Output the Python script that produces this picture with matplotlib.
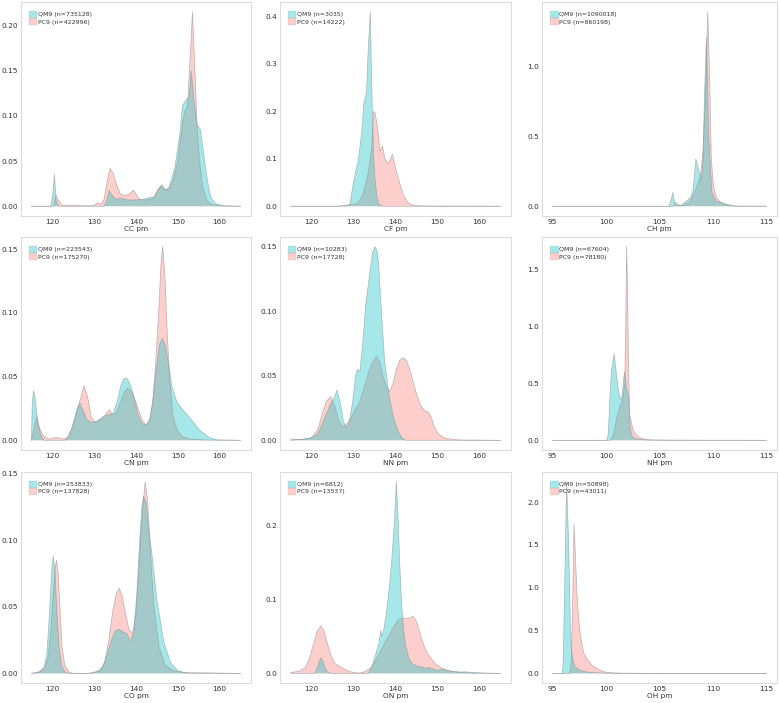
import matplotlib
matplotlib.use('Agg')
import matplotlib.pyplot as plt
from matplotlib.patches import Patch
from matplotlib.ticker import FormatStrFormatter

# ---------------- data ----------------
bond_types = ['CC', 'CF', 'CH', 'CN', 'NN', 'NH', 'CO', 'ON', 'OH']
qm9_counts = [735128, 3035, 1090018, 223543, 10283, 67604, 253833, 6812, 50898]
pc9_counts = [422996, 14222, 860198, 175270, 17728, 78180, 137828, 13537, 43011]

heavy_xticks = [120, 130, 140, 150, 160]
hydro_xticks = [95, 100, 105, 110, 115]

cc_qm9_x = [115, 119.6, 120.1, 120.5, 120.9, 121.5, 132.3, 133.0, 133.6, 134.3, 135.2, 136.5, 138, 140, 142, 143.5, 144.5, 145.5, 146.2, 147, 147.8, 148.5, 149.3, 150.5, 151.1, 152.0, 152.7, 153.2, 153.8, 154.6, 155.4, 156.0, 156.7, 157.4, 158.0, 159.0, 161, 165]
cc_qm9_y = [0, 0, 0.012, 0.035, 0.006, 0, 0, 0.006, 0.017, 0.012, 0.008, 0.009, 0.007, 0.007, 0.008, 0.010, 0.010, 0.020, 0.024, 0.018, 0.020, 0.030, 0.043, 0.080, 0.111, 0.118, 0.120, 0.150, 0.120, 0.090, 0.085, 0.065, 0.040, 0.020, 0.009, 0.003, 0.0005, 0]
cc_pc9_x = [115, 120.3, 120.9, 121.5, 122.5, 129.8, 130.8, 131.6, 132.4, 133.2, 133.8, 134.5, 135.3, 136.2, 137.2, 138.3, 139.4, 140.2, 141, 142.5, 144, 145.2, 146, 147, 148, 149, 150, 150.8, 151.6, 152.3, 152.9, 153.5, 154.1, 154.6, 155.2, 156, 157, 158, 160, 165]
cc_pc9_y = [0, 0, 0.012, 0.006, 0.001, 0.0005, 0.004, 0.002, 0.008, 0.030, 0.042, 0.037, 0.025, 0.014, 0.012, 0.013, 0.018, 0.012, 0.007, 0.007, 0.008, 0.018, 0.022, 0.018, 0.020, 0.030, 0.050, 0.080, 0.105, 0.110, 0.160, 0.215, 0.150, 0.090, 0.050, 0.020, 0.006, 0.002, 0.0005, 0]

cf_qm9_x = [115, 128, 129.1, 129.8, 130.6, 131.1, 131.9, 132.5, 133.1, 133.5, 134.0, 134.2, 134.5, 134.8, 135.1, 135.5, 136.0, 137, 165]
cf_qm9_y = [0, 0, 0.003, 0.040, 0.077, 0.095, 0.150, 0.220, 0.240, 0.330, 0.410, 0.320, 0.200, 0.100, 0.060, 0.025, 0.005, 0, 0]
cf_pc9_x = [115, 126, 128, 130, 131, 132, 132.7, 133.5, 134.3, 134.8, 135.2, 135.8, 136.3, 136.9, 137.5, 138.2, 138.8, 139.3, 140.2, 141.0, 141.8, 143.0, 144.0, 145.5, 148, 165]
cf_pc9_y = [0, 0, 0.002, 0.004, 0.006, 0.020, 0.040, 0.070, 0.120, 0.200, 0.195, 0.160, 0.116, 0.127, 0.100, 0.090, 0.100, 0.110, 0.074, 0.049, 0.025, 0.007, 0.003, 0.001, 0.0005, 0]

ch_qm9_x = [95, 105.9, 106.1, 106.25, 106.45, 107.0, 107.5, 107.9, 108.15, 108.4, 108.65, 108.87, 109.05, 109.2, 109.32, 109.4, 109.6, 109.9, 110.3, 111.0, 111.8, 112.5, 115]
ch_qm9_y = [0, 0, 0.05, 0.10, 0.01, 0.005, 0.036, 0.06, 0.12, 0.34, 0.27, 0.18, 0.30, 0.75, 1.05, 1.21, 0.51, 0.10, 0.036, 0.020, 0.003, 0, 0]
ch_pc9_x = [95, 106.3, 106.55, 106.8, 107.2, 107.8, 108.3, 108.8, 109.1, 109.35, 109.52, 109.7, 109.85, 110.05, 110.35, 110.7, 111.2, 112.0, 115]
ch_pc9_y = [0, 0, 0.03, 0.003, 0.005, 0.03, 0.10, 0.20, 0.40, 0.90, 1.39, 0.90, 0.35, 0.14, 0.06, 0.03, 0.012, 0.002, 0]

cn_qm9_x = [115, 115.2, 115.5, 115.9, 116.5, 117.2, 118, 123, 124, 125, 125.8, 126.6, 127.3, 128.3, 129.5, 130.5, 131.5, 132.5, 133.5, 134.5, 135.5, 136.3, 137.2, 138, 138.8, 139.6, 140.5, 141.5, 142.5, 143.3, 144, 144.8, 145.6, 146.3, 147, 147.8, 148.6, 149.8, 151.2, 152.8, 155.2, 157.6, 159.5, 165]
cn_qm9_y = [0, 0.030, 0.039, 0.033, 0.015, 0.004, 0, 0, 0.003, 0.013, 0.024, 0.029, 0.024, 0.016, 0.014, 0.015, 0.017, 0.019, 0.020, 0.021, 0.030, 0.042, 0.049, 0.048, 0.042, 0.033, 0.020, 0.013, 0.012, 0.017, 0.030, 0.055, 0.075, 0.080, 0.075, 0.060, 0.042, 0.030, 0.024, 0.018, 0.008, 0.002, 0.0003, 0]
cn_pc9_x = [115, 115.5, 116.2, 116.9, 117.8, 119, 120.5, 121.5, 122.5, 123.5, 124.5, 125.5, 126.5, 127.6, 128.5, 129.3, 130.3, 131.5, 132.7, 133.6, 134.4, 135.3, 136.3, 137.2, 138, 139, 140, 141, 141.8, 142.5, 143.3, 144, 144.7, 145.4, 146, 146.4, 146.9, 147.4, 148, 148.8, 149.8, 151, 153, 156, 165]
cn_pc9_y = [0, 0.008, 0.018, 0.010, 0.004, 0.001, 0.002, 0.002, 0.001, 0.002, 0.008, 0.018, 0.030, 0.043, 0.033, 0.018, 0.014, 0.016, 0.020, 0.024, 0.020, 0.022, 0.030, 0.038, 0.041, 0.038, 0.030, 0.020, 0.014, 0.012, 0.015, 0.030, 0.060, 0.100, 0.140, 0.152, 0.130, 0.090, 0.050, 0.020, 0.008, 0.003, 0.001, 0.0003, 0]

nn_qm9_x = [115, 118, 120, 121.5, 122.5, 123.5, 124.5, 125.4, 126.1, 126.8, 127.6, 128.3, 129, 129.8, 130.5, 130.9, 131.5, 132.2, 132.9, 133.7, 134.5, 135.1, 135.6, 136.0, 136.7, 137.4, 138.4, 139.5, 140.5, 141.5, 142.5, 165]
nn_qm9_y = [0, 0.001, 0.002, 0.005, 0.012, 0.020, 0.028, 0.033, 0.039, 0.030, 0.015, 0.009, 0.014, 0.030, 0.050, 0.055, 0.053, 0.075, 0.105, 0.125, 0.145, 0.150, 0.147, 0.136, 0.097, 0.062, 0.036, 0.018, 0.008, 0.002, 0, 0]
nn_pc9_x = [115, 118, 120, 121.5, 122.5, 123.5, 124.6, 125.5, 126.5, 127.5, 128.5, 129.5, 130.5, 131.5, 132.5, 133.5, 134.5, 135.5, 136.3, 137, 137.8, 138.6, 139.4, 140.2, 141, 141.8, 142.6, 143.4, 144.2, 145, 146, 147, 147.8, 148.5, 149.3, 150.2, 151.5, 153, 155, 165]
nn_pc9_y = [0.001, 0.0005, 0.002, 0.008, 0.020, 0.030, 0.034, 0.027, 0.015, 0.010, 0.013, 0.018, 0.024, 0.030, 0.040, 0.052, 0.060, 0.065, 0.060, 0.050, 0.042, 0.038, 0.044, 0.055, 0.062, 0.064, 0.062, 0.055, 0.045, 0.036, 0.027, 0.023, 0.022, 0.018, 0.010, 0.005, 0.002, 0.001, 0.0003, 0]

nh_qm9_x = [95, 100.05, 100.2, 100.35, 100.5, 100.76, 100.97, 101.2, 101.45, 101.6, 101.72, 101.9, 102.1, 102.25, 102.4, 102.7, 103.2, 104, 106, 115]
nh_qm9_y = [0, 0, 0.05, 0.35, 0.61, 0.76, 0.58, 0.41, 0.35, 0.50, 0.60, 0.47, 0.38, 0.12, 0.04, 0.015, 0.006, 0.002, 0, 0]
nh_pc9_x = [95, 100.4, 100.7, 101.0, 101.3, 101.55, 101.75, 101.84, 101.92, 102.0, 102.08, 102.2, 102.5, 102.75, 103.0, 103.4, 103.9, 104.5, 106, 110, 115]
nh_pc9_y = [0, 0, 0.05, 0.20, 0.30, 0.35, 0.50, 1.00, 1.70, 1.40, 0.80, 0.23, 0.10, 0.06, 0.03, 0.015, 0.005, 0.003, 0.002, 0.0005, 0]

co_qm9_x = [115, 117, 118, 118.7, 119.3, 119.8, 120.2, 120.6, 121.1, 121.6, 122.2, 123, 124, 129, 131, 132, 133, 134, 135, 136, 137, 137.8, 138.7, 139.5, 140.2, 140.9, 141.4, 141.8, 142.4, 143.0, 143.9, 145.1, 146.7, 148.3, 150, 152, 165]
co_qm9_y = [0, 0.001, 0.004, 0.015, 0.045, 0.075, 0.088, 0.078, 0.045, 0.020, 0.006, 0.001, 0, 0, 0.002, 0.005, 0.013, 0.024, 0.032, 0.033, 0.031, 0.030, 0.024, 0.032, 0.060, 0.100, 0.125, 0.133, 0.128, 0.110, 0.087, 0.053, 0.023, 0.008, 0.002, 0.0003, 0]
co_pc9_x = [115, 116.5, 117.5, 118.3, 119, 119.7, 120.3, 120.7, 121.0, 121.4, 121.8, 122.3, 123, 124, 125, 128, 130, 131.5, 132.5, 133.5, 134.5, 135.3, 136, 136.7, 137.5, 138.3, 139.2, 140, 140.8, 141.5, 142.2, 142.8, 143.5, 144.3, 145.5, 147, 149, 152, 165]
co_pc9_y = [0, 0.001, 0.003, 0.005, 0.012, 0.035, 0.065, 0.080, 0.085, 0.075, 0.050, 0.020, 0.006, 0.001, 0, 0, 0.0005, 0.002, 0.008, 0.025, 0.048, 0.060, 0.064, 0.058, 0.045, 0.033, 0.030, 0.045, 0.085, 0.120, 0.144, 0.130, 0.087, 0.050, 0.020, 0.006, 0.002, 0.0005, 0]

on_qm9_x = [115, 120.8, 121.4, 121.9, 122.3, 122.8, 123.3, 124, 125, 133.5, 134.3, 134.9, 135.5, 136.0, 136.5, 136.8, 137.3, 137.9, 138.6, 139.2, 139.7, 140.2, 140.6, 141.0, 141.4, 141.9, 142.5, 143.2, 144, 145, 146, 147, 148, 149, 150, 151, 152, 153.5, 155, 157, 159, 162, 165]
on_qm9_y = [0, 0, 0.008, 0.017, 0.021, 0.016, 0.006, 0.001, 0, 0, 0.008, 0.018, 0.030, 0.040, 0.058, 0.050, 0.062, 0.085, 0.120, 0.160, 0.200, 0.259, 0.210, 0.150, 0.100, 0.060, 0.035, 0.020, 0.013, 0.010, 0.009, 0.007, 0.008, 0.006, 0.004, 0.006, 0.004, 0.003, 0.002, 0.002, 0.001, 0.0003, 0]
on_pc9_x = [115, 117, 118.5, 119.5, 120.5, 121.3, 122.2, 123, 123.8, 124.6, 125.5, 126.5, 127.5, 128.5, 130, 131.5, 132.5, 133.5, 134.5, 135.9, 137, 138.3, 139.5, 140.6, 141.8, 142.8, 143.5, 144.2, 145, 145.8, 146.6, 147.5, 148.5, 149.5, 150.5, 151.5, 153, 155, 158, 165]
on_pc9_y = [0.001, 0.003, 0.008, 0.020, 0.040, 0.056, 0.064, 0.058, 0.040, 0.025, 0.014, 0.010, 0.007, 0.004, 0.001, 0.0005, 0.002, 0.005, 0.010, 0.024, 0.036, 0.050, 0.062, 0.072, 0.075, 0.074, 0.075, 0.077, 0.070, 0.055, 0.040, 0.028, 0.020, 0.013, 0.009, 0.006, 0.003, 0.0015, 0.0005, 0]

oh_qm9_x = [95, 95.92, 96.0, 96.1, 96.2, 96.3, 96.45, 96.55, 96.65, 96.75, 96.9, 97.1, 97.5, 98, 99, 100, 101, 115]
oh_qm9_y = [0, 0, 0.20, 0.90, 1.50, 2.24, 1.70, 1.20, 0.60, 0.30, 0.15, 0.08, 0.04, 0.02, 0.008, 0.003, 0.001, 0]
oh_pc9_x = [95, 96.6, 96.75, 96.88, 97.0, 97.12, 97.27, 97.45, 97.6, 97.9, 98.2, 98.7, 99.3, 100.0, 100.7, 101.5, 102.5, 104, 115]
oh_pc9_y = [0, 0, 0.15, 0.90, 1.74, 1.40, 0.94, 0.62, 0.44, 0.24, 0.17, 0.09, 0.045, 0.012, 0.006, 0.003, 0.0015, 0.0005, 0]

qm9_x = [cc_qm9_x, cf_qm9_x, ch_qm9_x, cn_qm9_x, nn_qm9_x, nh_qm9_x, co_qm9_x, on_qm9_x, oh_qm9_x]
qm9_y = [cc_qm9_y, cf_qm9_y, ch_qm9_y, cn_qm9_y, nn_qm9_y, nh_qm9_y, co_qm9_y, on_qm9_y, oh_qm9_y]
pc9_x = [cc_pc9_x, cf_pc9_x, ch_pc9_x, cn_pc9_x, nn_pc9_x, nh_pc9_x, co_pc9_x, on_pc9_x, oh_pc9_x]
pc9_y = [cc_pc9_y, cf_pc9_y, ch_pc9_y, cn_pc9_y, nn_pc9_y, nh_pc9_y, co_pc9_y, on_pc9_y, oh_pc9_y]

yticks = [
    [0, 0.05, 0.10, 0.15, 0.20],
    [0, 0.1, 0.2, 0.3, 0.4],
    [0, 0.5, 1.0],
    [0, 0.05, 0.10, 0.15],
    [0, 0.05, 0.10, 0.15],
    [0, 0.5, 1.0, 1.5],
    [0, 0.05, 0.10, 0.15],
    [0, 0.1, 0.2],
    [0, 0.5, 1.0, 1.5, 2.0],
]
yfmt = ['%.2f', '%.1f', '%.1f', '%.2f', '%.2f', '%.1f', '%.2f', '%.1f', '%.1f']

# ---------------- style ----------------
QM9_COLOR = '#00BFC4'
PC9_COLOR = '#F8766D'
ALPHA = 0.35
EDGE = '#8c8c8c'
TEXT = '#333333'

W, H = 779, 703
fig = plt.figure(figsize=(W / 100, H / 100), dpi=100)
fig.patch.set_facecolor('white')

col_px = [(21, 251), (280, 511), (542, 777)]
row_px = [(2, 216), (237, 450), (472, 683)]

for i, bt in enumerate(bond_types):
    r, c = divmod(i, 3)
    x0, x1 = col_px[c]
    yt, yb = row_px[r]
    ax = fig.add_axes([x0 / W, 1 - yb / H, (x1 - x0) / W, (yb - yt) / H])

    ax.fill_between(pc9_x[i], pc9_y[i], 0, facecolor=PC9_COLOR, alpha=ALPHA, linewidth=0)
    ax.plot(pc9_x[i], pc9_y[i], color=EDGE, linewidth=0.5, alpha=0.6)
    ax.fill_between(qm9_x[i], qm9_y[i], 0, facecolor=QM9_COLOR, alpha=ALPHA, linewidth=0)
    ax.plot(qm9_x[i], qm9_y[i], color=EDGE, linewidth=0.5, alpha=0.6)

    ax.set_xticks(hydro_xticks if bt.endswith('H') else heavy_xticks)
    ax.set_yticks(yticks[i])
    ax.yaxis.set_major_formatter(FormatStrFormatter(yfmt[i]))
    ax.tick_params(length=0, labelsize=5.3, colors=TEXT, pad=2)
    ax.set_xlabel(f'{bt} pm', fontsize=5.3, color=TEXT, labelpad=1)
    ax.grid(False)
    for sp in ax.spines.values():
        sp.set_color('#dcdcdc')
        sp.set_linewidth(0.8)

    handles = [
        Patch(facecolor=QM9_COLOR, alpha=ALPHA, edgecolor=EDGE, linewidth=0.3),
        Patch(facecolor=PC9_COLOR, alpha=ALPHA, edgecolor=EDGE, linewidth=0.3),
    ]
    labels = [f'QM9 (n={qm9_counts[i]})', f'PC9 (n={pc9_counts[i]})']
    leg = ax.legend(handles, labels, loc='upper left', bbox_to_anchor=(0.025, 0.97),
                    frameon=False, fontsize=4.5, handlelength=1.3, handleheight=1.3,
                    handletextpad=0.15, labelspacing=0.05, borderpad=0.2, borderaxespad=0.2)
    for t in leg.get_texts():
        t.set_color(TEXT)

fig.savefig('out.png', dpi=100, facecolor='white')
